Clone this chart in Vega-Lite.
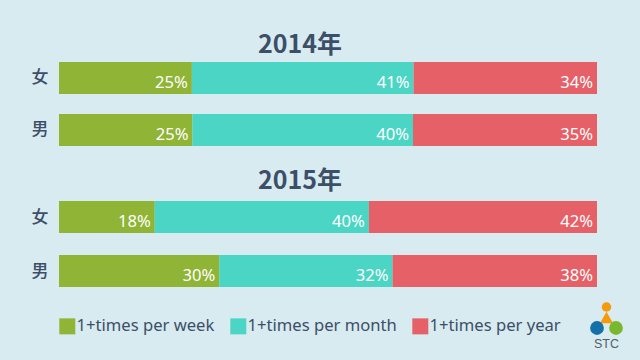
{"$schema":"https://vega.github.io/schema/vega-lite/v6.json","background":"#d7ebf1","padding":{"left":31,"top":33,"right":15,"bottom":18},"bounds":"flush","spacing":34,
"config":{"view":{"stroke":null},"text":{"font":"Noto Sans"}},
"datasets":{"bars":[
{"year":"2014年","gender":"女","freq":"1+times per week","rank":1,"value":24.7,"label":"25%"},
{"year":"2014年","gender":"女","freq":"1+times per month","rank":2,"value":41.2,"label":"41%"},
{"year":"2014年","gender":"女","freq":"1+times per year","rank":3,"value":34.1,"label":"34%"},
{"year":"2014年","gender":"男","freq":"1+times per week","rank":1,"value":24.8,"label":"25%"},
{"year":"2014年","gender":"男","freq":"1+times per month","rank":2,"value":41.0,"label":"40%"},
{"year":"2014年","gender":"男","freq":"1+times per year","rank":3,"value":34.2,"label":"35%"},
{"year":"2015年","gender":"女","freq":"1+times per week","rank":1,"value":17.8,"label":"18%"},
{"year":"2015年","gender":"女","freq":"1+times per month","rank":2,"value":39.8,"label":"40%"},
{"year":"2015年","gender":"女","freq":"1+times per year","rank":3,"value":42.4,"label":"42%"},
{"year":"2015年","gender":"男","freq":"1+times per week","rank":1,"value":29.8,"label":"30%"},
{"year":"2015年","gender":"男","freq":"1+times per month","rank":2,"value":32.2,"label":"32%"},
{"year":"2015年","gender":"男","freq":"1+times per year","rank":3,"value":38.0,"label":"38%"}
],"logo":[
{"col":"center","row":"head","part":"orange","shape":"circle","size":90},
{"col":"center","row":"body","part":"orange","shape":"triangle-up","size":170},
{"col":"left","row":"base","part":"blue","shape":"circle","size":190},
{"col":"right","row":"base","part":"green","shape":"circle","size":190}
]},
"resolve":{"scale":{"color":"shared"},"legend":{"color":"shared"}},
"vconcat":[
{"width":538,"height":104,"title":{"text":"2014年","font":"Noto Sans CJK SC","fontWeight":"bold","fontSize":25,"color":"#3d4f68","anchor":"middle","dx":-28,"offset":-6},
"data":{"name":"bars"},"transform":[{"filter":"datum.year==='2014年'"},{"stack":"value","groupby":["gender"],"sort":[{"field":"rank"}],"as":["start","end"]}],
"encoding":{"y":{"field":"gender","type":"nominal","sort":["女","男"],"scale":{"paddingInner":0.385,"paddingOuter":0.192},"axis":{"title":null,"domain":false,"ticks":false,"labelPadding":11,"labelFont":"Noto Sans CJK SC","labelFontSize":17,"labelFontWeight":500,"labelColor":"#3d4f68","labelAngle":0,"labelOffset":0}}},
"layer":[
{"mark":{"type":"bar","tooltip":false},"encoding":{"x":{"field":"start","type":"quantitative","scale":{"domain":[0,100]},"axis":null},"x2":{"field":"end"},"color":{"field":"freq","type":"nominal","sort":["1+times per week","1+times per month","1+times per year"],"scale":{"domain":["1+times per week","1+times per month","1+times per year"],"range":["#8fb436","#4bd5c4","#e66067"]},"legend":{"orient":"none","legendX":0,"legendY":266,"direction":"horizontal","columns":3,"title":null,"symbolType":"square","symbolSize":256,"symbolStrokeWidth":0,"symbolOpacity":1,"labelFont":"Noto Sans","labelFontSize":16.6,"labelColor":"#3d4f68","labelOffset":1,"columnPadding":15,"labelLimit":200}}}},
{"mark":{"type":"text","align":"right","dx":-4,"dy":5,"fontSize":16.6,"color":"white","font":"Noto Sans"},"encoding":{"x":{"field":"end","type":"quantitative","scale":{"domain":[0,100]},"axis":null},"text":{"field":"label"}}}
]},
{"width":538,"height":108,"title":{"text":"2015年","font":"Noto Sans CJK SC","fontWeight":"bold","fontSize":25,"color":"#3d4f68","anchor":"middle","dx":-28,"offset":-4},
"data":{"name":"bars"},"transform":[{"filter":"datum.year==='2015年'"},{"stack":"value","groupby":["gender"],"sort":[{"field":"rank"}],"as":["start","end"]}],
"encoding":{"y":{"field":"gender","type":"nominal","sort":["女","男"],"scale":{"paddingInner":0.407,"paddingOuter":0.204},"axis":{"title":null,"domain":false,"ticks":false,"labelPadding":11,"labelFont":"Noto Sans CJK SC","labelFontSize":17,"labelFontWeight":500,"labelColor":"#3d4f68","labelAngle":0,"labelOffset":1}}},
"layer":[
{"mark":{"type":"bar","tooltip":false},"encoding":{"x":{"field":"start","type":"quantitative","scale":{"domain":[0,100]},"axis":null},"x2":{"field":"end"},"color":{"field":"freq","type":"nominal"}}},
{"mark":{"type":"text","align":"right","dx":-4,"dy":5,"fontSize":16.6,"color":"white","font":"Noto Sans"},"encoding":{"x":{"field":"end","type":"quantitative","scale":{"domain":[0,100]},"axis":null},"text":{"field":"label"}}}
]},
{"width":566,"height":10,"data":{"name":"logo"},
"layer":[
{"mark":{"type":"point","filled":true,"opacity":1},"encoding":{
"x":{"field":"col","type":"nominal","scale":{"type":"point","padding":0,"domain":["left","center","right"],"range":[538,557]},"axis":null},
"y":{"field":"row","type":"nominal","scale":{"type":"point","padding":0,"domain":["head","body","base"],"range":[-25,-4]},"axis":null},
"shape":{"field":"shape","type":"nominal","scale":null},
"size":{"field":"size","type":"quantitative","scale":null},
"fill":{"field":"part","type":"nominal","scale":{"domain":["orange","blue","green"],"range":["#f59a0c","#1470a8","#79b82e"]},"legend":null}}},
{"data":{"values":[{"name":"STC"}]},"mark":{"type":"text","font":"Liberation Sans","fontSize":12.5,"color":"#555f66","baseline":"middle"},"encoding":{"text":{"field":"name"},"x":{"value":547.5},"y":{"value":12}}}
]}
]}
